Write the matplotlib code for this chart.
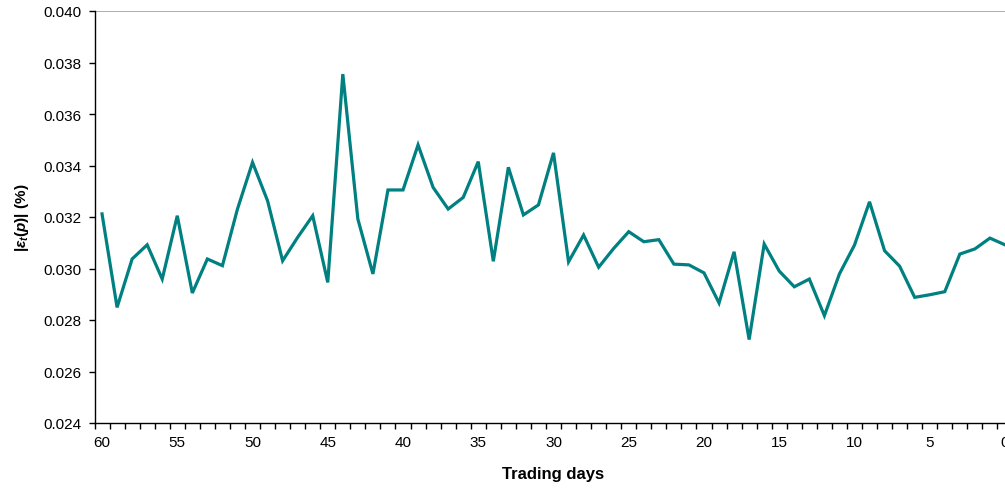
import numpy as np
import matplotlib
matplotlib.use("Agg")
import matplotlib.pyplot as plt

plt.rcParams['font.family'] = ['Liberation Sans', 'DejaVu Sans']
plt.rcParams['mathtext.fontset'] = 'custom'
plt.rcParams['mathtext.rm'] = 'Liberation Sans:bold'
plt.rcParams['mathtext.it'] = 'Liberation Sans:bold:italic'
plt.rcParams['mathtext.bf'] = 'Liberation Sans:bold'

# trading days, counted down to 0
days = list(range(60, -1, -1))
err = [0.03212, 0.02849, 0.03037, 0.03092, 0.02959, 0.03205, 0.02905, 0.03037,
       0.03011, 0.03231, 0.03412, 0.03263, 0.03030, 0.03121, 0.03205, 0.02946,
       0.03755, 0.03192, 0.02979, 0.03305, 0.03305, 0.03480, 0.03315, 0.03231,
       0.03276, 0.03415, 0.03028, 0.03393, 0.03208, 0.03247, 0.03449, 0.03026,
       0.03130, 0.03005, 0.03078, 0.03143, 0.03104, 0.03112, 0.03017, 0.03014,
       0.02983, 0.02866, 0.03065, 0.02724, 0.03095, 0.02990, 0.02929, 0.02959,
       0.02817, 0.02979, 0.03091, 0.03259, 0.03069, 0.03009, 0.02888, 0.02898,
       0.02910, 0.03056, 0.03076, 0.03118, 0.03092]
xlabels = [str(d) for d in range(0, 61, 5)]
yticks = [0.024, 0.026, 0.028, 0.030, 0.032, 0.034, 0.036, 0.038, 0.040]

fig = plt.figure(figsize=(10.05, 4.89), dpi=100)
ax = fig.add_axes([94.5/1005, 65/489, 918/1005, 412/489])

ax.plot(days, err, color='#008080', lw=2.3, solid_joinstyle='miter')
ax.axhline(0.040, color='#a0a0a0', lw=1.2)

ax.set_xlim(60.5, -0.5)
ax.set_ylim(0.024, 0.040)

# tick marks between categories, labels every 5 days
ax.set_xticks(np.arange(-0.5, 61, 1))
ax.set_xticklabels([])
ax.set_xticks(range(0, 61, 5), minor=True)
ax.set_xticklabels(xlabels, minor=True, fontsize=11)
ax.tick_params(axis='x', which='major', direction='out', length=4, width=1)
ax.tick_params(axis='x', which='minor', length=0, pad=9)

ax.set_yticks(yticks)
ax.set_yticklabels(['%.3f' % v for v in yticks], fontsize=11)
ax.tick_params(axis='y', direction='out', length=4.3, width=1, pad=5)

for s in ['top', 'right']:
    ax.spines[s].set_visible(False)
ax.spines['left'].set_linewidth(1)
ax.spines['bottom'].set_linewidth(1)

ax.set_xlabel('Trading days', fontsize=12, fontweight='bold', labelpad=12)
ax.set_ylabel(r'$|\varepsilon_t(p)|$ (%)', fontsize=11, fontweight='bold', labelpad=9)

fig.savefig('out.png', dpi=100)
